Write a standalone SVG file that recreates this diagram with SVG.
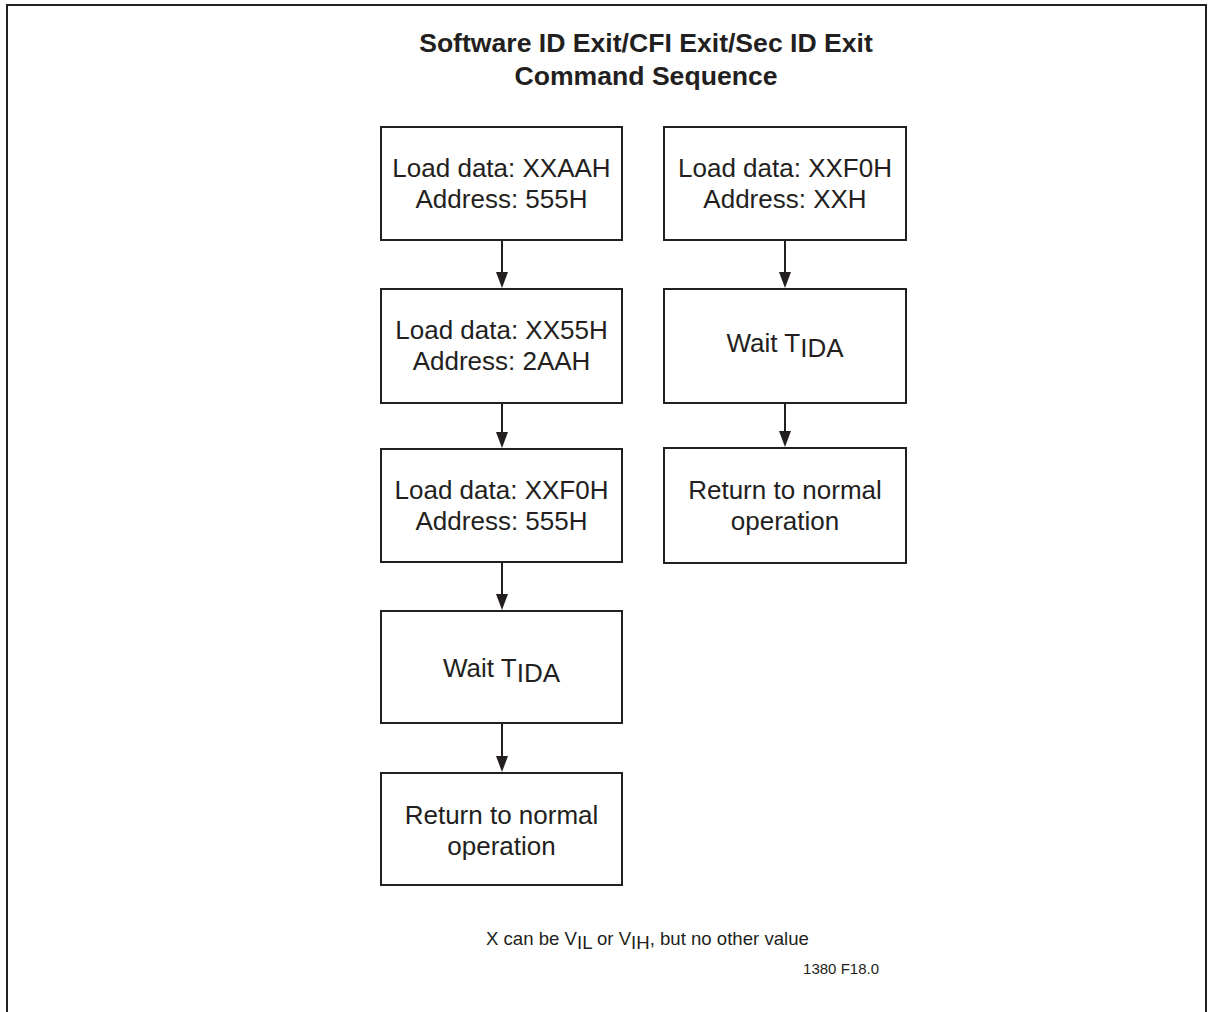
<svg xmlns="http://www.w3.org/2000/svg" width="1212" height="1012" viewBox="0 0 1212 1012">
<defs>
<style>
.box{fill:#fff;stroke:#231f20;stroke-width:2}
.t{font-family:"Liberation Sans",Arial,sans-serif;font-size:26px;fill:#231f20;text-anchor:middle}
.title{font-family:"Liberation Sans",Arial,sans-serif;font-size:26.6px;font-weight:bold;fill:#231f20;text-anchor:middle}
.small{font-family:"Liberation Sans",Arial,sans-serif;font-size:18.6px;fill:#231f20}
.conn{stroke:#231f20;stroke-width:2;fill:none}
.head{fill:#231f20}
</style>
</defs>
<rect width="1212" height="1012" fill="#fff"/>
<path d="M7,1012 V5 H1206 V1012" fill="none" stroke="#231f20" stroke-width="2"/>
<text class="title" x="646" y="52">Software ID Exit/CFI Exit/Sec ID Exit</text>
<text class="title" x="646" y="85">Command Sequence</text>

<g id="connectors">
<line class="conn" x1="502" y1="240" x2="502" y2="274"/>
<path class="head" d="M496,272 L508,272 L502,288 Z"/>
<line class="conn" x1="502" y1="403" x2="502" y2="434"/>
<path class="head" d="M496,432 L508,432 L502,448 Z"/>
<line class="conn" x1="502" y1="562" x2="502" y2="596"/>
<path class="head" d="M496,594 L508,594 L502,610 Z"/>
<line class="conn" x1="502" y1="723" x2="502" y2="758"/>
<path class="head" d="M496,756 L508,756 L502,772 Z"/>
<line class="conn" x1="785" y1="240" x2="785" y2="274"/>
<path class="head" d="M779,272 L791,272 L785,288 Z"/>
<line class="conn" x1="785" y1="403" x2="785" y2="433"/>
<path class="head" d="M779,431 L791,431 L785,447 Z"/>
</g>

<g id="n1">
<rect class="box" x="381" y="127" width="241" height="113"/>
<text class="t" x="501.5" y="177">Load data: XXAAH</text>
<text class="t" x="501.5" y="208">Address: 555H</text>
</g>
<g id="n2">
<rect class="box" x="381" y="289" width="241" height="114"/>
<text class="t" x="501.5" y="339">Load data: XX55H</text>
<text class="t" x="501.5" y="370">Address: 2AAH</text>
</g>
<g id="n3">
<rect class="box" x="381" y="449" width="241" height="113"/>
<text class="t" x="501.5" y="499">Load data: XXF0H</text>
<text class="t" x="501.5" y="530">Address: 555H</text>
</g>
<g id="n4">
<rect class="box" x="381" y="611" width="241" height="112"/>
<text class="t" x="501.5" y="677">Wait T<tspan dy="5">IDA</tspan></text>
</g>
<g id="n5">
<rect class="box" x="381" y="773" width="241" height="112"/>
<text class="t" x="501.5" y="824">Return to normal</text>
<text class="t" x="501.5" y="855">operation</text>
</g>

<g id="r1">
<rect class="box" x="664" y="127" width="242" height="113"/>
<text class="t" x="785" y="177">Load data: XXF0H</text>
<text class="t" x="785" y="208">Address: XXH</text>
</g>
<g id="r2">
<rect class="box" x="664" y="289" width="242" height="114"/>
<text class="t" x="785" y="352">Wait T<tspan dy="5">IDA</tspan></text>
</g>
<g id="r3">
<rect class="box" x="664" y="448" width="242" height="115"/>
<text class="t" x="785" y="499">Return to normal</text>
<text class="t" x="785" y="530">operation</text>
</g>

<text class="small" x="486" y="945">X can be V<tspan dy="4">IL</tspan><tspan dy="-4"> or V</tspan><tspan dy="4">IH</tspan><tspan dy="-4">, but no other value</tspan></text>
<text class="small" x="879" y="974" text-anchor="end" style="font-size:15px">1380 F18.0</text>
</svg>
